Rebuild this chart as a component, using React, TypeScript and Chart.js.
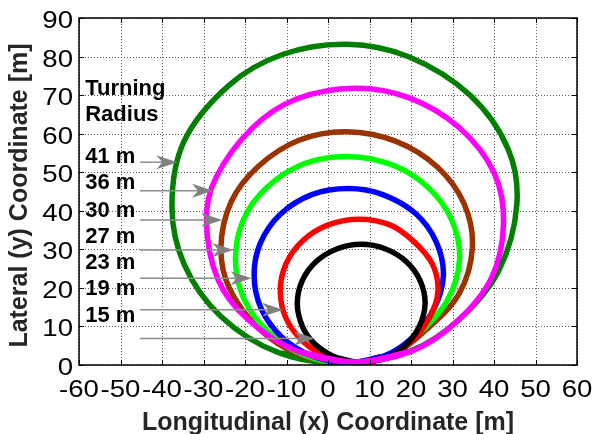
import React, { useEffect, useRef } from 'react';
import { Chart, registerables } from 'chart.js';

Chart.register(...registerables);

// ---- axis ticks ----
const xTicks = [-60, -50, -40, -30, -20, -10, 0, 10, 20, 30, 40, 50, 60];
const yTicks = [0, 10, 20, 30, 40, 50, 60, 70, 80, 90];

// ---- trajectories (points read around each loop, bottom -> right -> top -> left -> bottom) ----
const r15x = [2.1, 8, 13.9, 18.6, 22.0, 23.4, 22.2, 18.9, 13.9, 8, 2.1, -2.9, -6.2, -7.4, -6.2, -3.3, 2.1, 8, 13.9];
const r15y = [1.9, 0.7, 1.9, 5.0, 10.0, 16, 21.9, 26.8, 30.1, 31.3, 30.1, 26.8, 21.9, 16, 10.1, 5.6, 1.9, 0.7, 1.9];

const r19x = [0.2, 7.5, 14.6, 20.2, 24.5, 26.5, 25.1, 20.5, 14.8, 7.5, 0.2, -5.9, -10.1, -11.5, -10.1, -5.9, 0.2, 7.5, 14.6];
const r19y = [2.0, 0.6, 2.0, 6.2, 12.3, 19.2, 26.3, 32.2, 36.4, 37.8, 36.4, 32.4, 26.3, 19.2, 12.1, 6.0, 2.0, 0.6, 2.0];

const r23x = [-3.7, 5, 13.5, 20.2, 25.5, 27.8, 26.1, 21.1, 13.2, 5, -3.9, -11.6, -16.3, -17.8, -16.1, -11.1, -3.7, 5, 13.5];
const r23y = [2.3, 0.6, 2.3, 7.0, 14.5, 23.2, 31.9, 39.3, 44.2, 45.8, 44.2, 39.0, 31.6, 23.2, 14.6, 7.2, 2.3, 0.6, 2.3];

const r27x = [-5.6, 4.7, 14.5, 21.5, 28.6, 31.7, 29.8, 24.2, 15.5, 4.7, -5.8, -14.5, -20.3, -22.3, -20.2, -14.2, -5.6, 4.7, 14.5];
const r27y = [2.5, 0.5, 2.5, 7.8, 16.5, 27.3, 37.6, 46.0, 51.9, 54.1, 52.2, 46.3, 37.9, 27.3, 17.0, 8.4, 2.5, 0.5, 2.5];

const r30x = [-7.1, 4.5, 15.5, 23.8, 31.6, 34.8, 32.8, 26.4, 16.4, 4.5, -7.0, -16.7, -23.3, -25.8, -23.8, -16.6, -7.1, 4.5, 15.5];
const r30y = [2.8, 0.5, 2.8, 9.3, 18.5, 30.5, 41.8, 51.3, 58.0, 60.5, 58.3, 51.6, 42.4, 30.5, 20.0, 9.4, 2.8, 0.5, 2.8];

const r36x = [-7.2, 6.5, 20.0, 30.8, 39.4, 42.3, 40.0, 31.6, 19.6, 6.5, -7.6, -18.2, -27.0, -29.3, -26.6, -19.3, -7.2, 6.5, 20.0];
const r36y = [3.5, 0.8, 3.5, 11.0, 22.6, 36.8, 49.9, 61.6, 69.3, 71.8, 69.0, 61.5, 48.6, 37.6, 22.4, 11.8, 3.5, 0.8, 3.5];

const r41x = [-11.9, 4, 19.8, 31.6, 41.2, 45.5, 43.4, 34.2, 19.6, 4.6, -10.8, -23.8, -34.7, -37.6, -34.6, -25.8, -11.9, 4, 19.8];
const r41y = [3.2, 0.5, 3.6, 11.8, 24.6, 41.6, 56.0, 70.0, 79.9, 83.2, 80.6, 72.6, 58.0, 41.0, 26.0, 12.6, 3.2, 0.5, 3.6];

// ---- annotations ----
const headerLines = ['Turning', 'Radius'];
const headerY = [70.0, 63.2];
const radiusLabels = ['41 m', '36 m', '30 m', '27 m', '23 m', '19 m', '15 m'];
const labelBaseY = [52.3, 45.6, 38.5, 31.7, 24.8, 18.2, 11.2];
const labelX = -58.5;
const arrowY = [52.6, 45.2, 37.6, 29.8, 22.5, 14.3, 6.9];
const arrowTipX = [-36.3, -27.7, -25.5, -22.8, -18.4, -10.8, -3.1];
const arrowStartX = -45.3;

const xTitle = 'Longitudinal (x) Coordinate [m]';
const yTitle = 'Lateral (y) Coordinate [m]';

const pts = (xs: number[], ys: number[]) => xs.map((x, i) => ({ x, y: ys[i] }));

const FONT = '"Liberation Sans", Arial, Helvetica, sans-serif';

const deco = {
  id: 'deco',
  beforeDraw(chart: any) {
    const ctx = chart.ctx;
    const { left, right, top, bottom } = chart.chartArea;
    const xs = chart.scales.x;
    const ys = chart.scales.y;
    ctx.save();
    ctx.fillStyle = '#ffffff';
    ctx.fillRect(0, 0, chart.width, chart.height);
    ctx.strokeStyle = '#5a5a5a';
    ctx.lineWidth = 1;
    ctx.setLineDash([1, 2]);
    for (const v of xTicks) {
      const p = Math.round(xs.getPixelForValue(v)) + 0.5;
      ctx.beginPath();
      ctx.moveTo(p, top);
      ctx.lineTo(p, bottom);
      ctx.stroke();
    }
    for (const v of yTicks) {
      const p = Math.round(ys.getPixelForValue(v)) + 0.5;
      ctx.beginPath();
      ctx.moveTo(left, p);
      ctx.lineTo(right, p);
      ctx.stroke();
    }
    ctx.restore();
  },
  afterDraw(chart: any) {
    const ctx = chart.ctx;
    const { left, right, top, bottom } = chart.chartArea;
    const xs = chart.scales.x;
    const ys = chart.scales.y;
    ctx.save();
    // box
    ctx.setLineDash([]);
    ctx.strokeStyle = '#000';
    ctx.lineWidth = 1.5;
    ctx.strokeRect(left, top, right - left, bottom - top);
    // inward ticks
    ctx.lineWidth = 1;
    const tl = 5;
    for (const v of xTicks) {
      const p = Math.round(xs.getPixelForValue(v)) + 0.5;
      ctx.beginPath();
      ctx.moveTo(p, bottom); ctx.lineTo(p, bottom - tl);
      ctx.moveTo(p, top); ctx.lineTo(p, top + tl);
      ctx.stroke();
    }
    for (const v of yTicks) {
      const p = Math.round(ys.getPixelForValue(v)) + 0.5;
      ctx.beginPath();
      ctx.moveTo(left, p); ctx.lineTo(left + tl, p);
      ctx.moveTo(right, p); ctx.lineTo(right - tl, p);
      ctx.stroke();
    }
    // tick labels
    ctx.fillStyle = '#000';
    ctx.font = `24px ${FONT}`;
    ctx.textBaseline = 'alphabetic';
    ctx.textAlign = 'center';
    for (const v of xTicks) {
      const p = xs.getPixelForValue(v);
      ctx.save();
      ctx.translate(p, bottom + 32);
      ctx.scale(1.15, 1);
      ctx.fillText(String(v), 0, 0);
      ctx.restore();
    }
    ctx.textAlign = 'right';
    for (const v of yTicks) {
      const p = ys.getPixelForValue(v);
      ctx.save();
      ctx.translate(left - 6, p + 10);
      ctx.scale(1.15, 1);
      ctx.fillText(String(v), 0, 0);
      ctx.restore();
    }
    // axis titles
    ctx.fillStyle = '#262626';
    ctx.font = `bold 25px ${FONT}`;
    ctx.textAlign = 'center';
    ctx.fillText(xTitle, (left + right) / 2, 430);
    ctx.save();
    ctx.translate(27, 195.5);
    ctx.rotate(-Math.PI / 2);
    ctx.fillText(yTitle, 0, 0);
    ctx.restore();
    // annotation texts
    ctx.fillStyle = '#000';
    ctx.font = `bold 22px ${FONT}`;
    ctx.textAlign = 'left';
    const lx = xs.getPixelForValue(labelX);
    headerLines.forEach((t, i) => ctx.fillText(t, lx, ys.getPixelForValue(headerY[i])));
    radiusLabels.forEach((t, i) => ctx.fillText(t, lx, ys.getPixelForValue(labelBaseY[i])));
    // arrows
    ctx.strokeStyle = '#8c8c8c';
    ctx.fillStyle = '#808080';
    ctx.lineWidth = 1.5;
    const sx = xs.getPixelForValue(arrowStartX);
    arrowY.forEach((yv, i) => {
      const py = ys.getPixelForValue(yv);
      const tx = xs.getPixelForValue(arrowTipX[i]);
      ctx.beginPath();
      ctx.moveTo(sx, py);
      ctx.lineTo(tx - 14, py);
      ctx.stroke();
      ctx.beginPath();
      ctx.moveTo(tx, py);
      ctx.lineTo(tx - 21, py - 7);
      ctx.lineTo(tx - 15, py);
      ctx.lineTo(tx - 21, py + 7);
      ctx.closePath();
      ctx.fill();
    });
    ctx.restore();
  },
};

export default function App() {
  const ref = useRef<HTMLCanvasElement | null>(null);
  useEffect(() => {
    if (!ref.current) return;
    const ds = (label: string, xs: number[], ys: number[], color: string) => ({
      label,
      data: pts(xs, ys),
      borderColor: color,
      backgroundColor: color,
      borderWidth: 5.5,
      pointRadius: 0,
      showLine: true,
      tension: 0.34,
      fill: false,
    });
    const chart = new Chart(ref.current, {
      type: 'scatter',
      data: {
        datasets: [
          ds('36 m', r36x, r36y, '#ff00ff'),
          ds('15 m', r15x, r15y, '#000000'),
          ds('19 m', r19x, r19y, '#ff0000'),
          ds('23 m', r23x, r23y, '#0000ff'),
          ds('27 m', r27x, r27y, '#00ff00'),
          ds('30 m', r30x, r30y, '#993300'),
          ds('41 m', r41x, r41y, '#007f00'),
        ],
      },
      options: {
        animation: false,
        responsive: false,
        devicePixelRatio: 1,
        layout: { padding: { left: 0, right: 16, top: 18, bottom: 0 } },
        plugins: { legend: { display: false }, tooltip: { enabled: false } },
        scales: {
          x: {
            type: 'linear',
            min: -60,
            max: 60,
            ticks: { display: false, stepSize: 10 },
            grid: { display: false },
            border: { display: false },
            afterFit: (s: any) => { s.height = 69; },
          },
          y: {
            type: 'linear',
            min: 0,
            max: 90,
            ticks: { display: false, stepSize: 10 },
            grid: { display: false },
            border: { display: false },
            afterFit: (s: any) => { s.width = 79; },
          },
        },
      },
      plugins: [deco],
    } as any);
    return () => chart.destroy();
  }, []);
  return (
    <div style={{ position: 'absolute', left: 0, top: 0, width: 593, height: 434 }}>
      <canvas ref={ref} width={593} height={434} style={{ display: 'block' }} />
    </div>
  );
}
